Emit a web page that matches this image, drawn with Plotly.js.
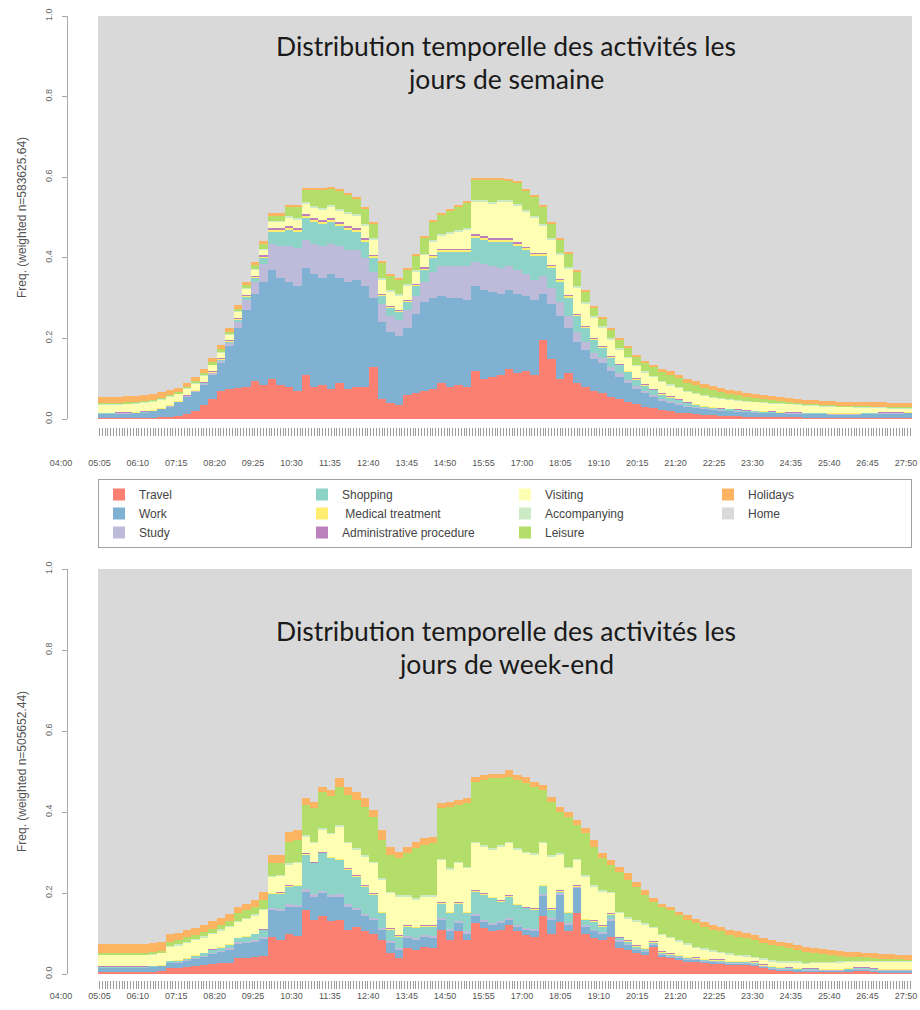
<!DOCTYPE html>
<html>
<head>
<meta charset="utf-8">
<script src="https://cdn.plot.ly/plotly-3.0.1.min.js"></script>
<style>
html,body{margin:0;padding:0;background:#ffffff;}
#chart{width:920px;height:1010px;}
</style>
</head>
<body>
<div id="chart"></div>
<script>
// ---------------- DATA ----------------
const states = ["Travel","Work","Study","Shopping","\u00a0Medical treatment","Administrative procedure","Visiting","Accompanying","Leisure","Holidays","Home"];
const stateColors = ["#FB8072","#80B1D3","#BEBADA","#8DD3C7","#FFED6F","#BC80BD","#FFFFB3","#CCEBC5","#B3DE69","#FDB462","#D9D9D9"];

const timeLabels = ["04:00","05:05","06:10","07:15","08:20","09:25","10:30","11:35","12:40","13:45","14:50","15:55","17:00","18:05","19:10","20:15","21:20","22:25","23:30","24:35","25:40","26:45","27:50"];
const yTickVals = [0,0.2,0.4,0.6,0.8,1.0];
const yTickText = ["0.0","0.2","0.4","0.6","0.8","1.0"];
const titleWeekday = ["Distribution temporelle des activités les","jours de semaine"];
const titleWeekend = ["Distribution temporelle des activités les","jours de week-end"];
const yTitleWeekday = "Freq. (weighted n=583625.64)";
const yTitleWeekend = "Freq. (weighted n=505652.44)";

// 15-minute slots from 04:00 (96 slots), shares of each state
// ---- Weekdays ----
const travelWd = [.002,.002,.002,.002,.002,.002,.003,.004,.005,.007,.012,.020,
 .035,.050,.070,.075,.078,.080,.095,.085,.100,.085,.080,.070,
 .110,.080,.085,.075,.090,.075,.080,.080,.130,.050,.040,.035,
 .060,.065,.070,.075,.090,.080,.085,.080,.120,.100,.105,.110,
 .125,.115,.120,.110,.195,.150,.100,.115,.090,.080,.070,.065,
 .055,.050,.042,.038,.030,.028,.022,.020,.016,.014,.012,.010,
 .010,.008,.008,.007,.006,.006,.005,.005,.005,.004,.004,.003,
 .003,.003,.003,.003,.002,.002,.002,.002,.002,.002,.002,.002];
const workWd = [.010,.010,.011,.011,.012,.013,.016,.020,.026,.034,.043,.048,
 .050,.060,.070,.105,.147,.190,.215,.255,.270,.265,.260,.260,
 .265,.280,.265,.285,.260,.265,.265,.250,.170,.190,.175,.170,
 .165,.195,.220,.225,.215,.220,.215,.215,.210,.220,.210,.200,
 .195,.195,.185,.185,.115,.135,.155,.110,.100,.090,.080,.075,
 .065,.055,.048,.037,.035,.027,.023,.020,.019,.016,.015,.014,
 .012,.012,.011,.011,.011,.010,.010,.010,.009,.009,.009,.009,
 .009,.009,.008,.008,.009,.009,.010,.010,.011,.011,.011,.012];
const studyWd = [.001,.001,.001,.001,.001,.001,.001,.001,.001,.001,.001,.001,
 .003,.003,.005,.008,.015,.025,.030,.045,.065,.080,.090,.095,
 .070,.075,.080,.075,.080,.080,.075,.070,.065,.045,.040,.040,
 .045,.045,.050,.065,.075,.080,.080,.085,.060,.065,.065,.065,
 .060,.060,.055,.050,.045,.040,.035,.030,.025,.020,.015,.012,
 .010,.008,.008,.008,.005,.005,.005,.004,.004,.003,.003,.003,
 .002,.002,.002,.002,.001,.001,.001,.001,.001,.001,.001,.001,
 .001,.001,.001,.001,.001,.001,.001,.001,.001,.001,.001,.001];
const shoppingWd = [.001,.001,.001,.001,.001,.001,.001,.001,.001,.001,.001,.001,
 .001,.002,.002,.003,.005,.007,.010,.015,.030,.035,.040,.040,
 .055,.055,.055,.055,.050,.050,.045,.040,.035,.020,.020,.020,
 .020,.025,.030,.035,.035,.035,.035,.035,.060,.060,.060,.065,
 .060,.060,.060,.060,.050,.050,.050,.045,.040,.035,.030,.025,
 .022,.020,.018,.015,.013,.011,.010,.008,.007,.006,.005,.004,
 .004,.003,.003,.002,.002,.002,.002,.001,.001,.001,.001,.001,
 .001,.001,.001,.001,.001,.001,.001,.001,.001,.001,.001,.001];
const medicalWd = [.001,.001,.001,.001,.001,.001,.001,.001,.001,.001,.001,.001,
 .001,.002,.002,.002,.003,.003,.003,.003,.004,.004,.004,.004,
 .004,.004,.004,.004,.004,.004,.004,.004,.004,.003,.003,.003,
 .003,.003,.003,.004,.004,.004,.004,.004,.004,.004,.004,.004,
 .004,.004,.004,.004,.004,.004,.004,.004,.003,.003,.003,.002,
 .002,.002,.002,.002,.002,.002,.002,.002,.002,.001,.001,.001,
 .001,.001,.001,.001,.001,.001,.001,.001,.001,.001,.001,.001,
 .001,.001,.001,.001,.001,.001,.001,.001,.001,.001,.001,.001];
const adminWd = [.001,.001,.001,.001,.001,.001,.001,.001,.001,.001,.001,.001,
 .001,.002,.002,.002,.003,.003,.003,.003,.004,.004,.004,.004,
 .004,.004,.004,.004,.004,.004,.004,.004,.004,.003,.003,.003,
 .003,.003,.003,.004,.004,.004,.004,.004,.004,.004,.004,.004,
 .004,.004,.004,.004,.004,.004,.004,.004,.003,.003,.003,.002,
 .002,.002,.002,.002,.002,.002,.002,.002,.002,.001,.001,.001,
 .001,.001,.001,.001,.001,.001,.001,.001,.001,.001,.001,.001,
 .001,.001,.001,.001,.001,.001,.001,.001,.001,.001,.001,.001];
const visitingWd = [.018,.018,.018,.019,.019,.020,.020,.020,.019,.016,.015,.015,
 .015,.014,.014,.014,.014,.014,.014,.014,.015,.015,.020,.020,
 .025,.025,.025,.027,.027,.030,.030,.032,.035,.035,.035,.035,
 .035,.030,.030,.030,.030,.035,.040,.045,.080,.085,.085,.090,
 .090,.090,.085,.085,.065,.060,.060,.065,.065,.055,.050,.045,
 .040,.035,.032,.030,.028,.028,.027,.027,.026,.025,.024,.023,
 .022,.022,.021,.021,.020,.020,.020,.019,.019,.019,.018,.017,
 .016,.015,.015,.014,.014,.013,.012,.011,.010,.009,.009,.008];
const accompWd = [.002,.002,.002,.002,.002,.002,.002,.002,.002,.002,.002,.002,
 .002,.002,.002,.002,.002,.003,.003,.003,.004,.004,.005,.005,
 .005,.005,.005,.005,.005,.005,.005,.005,.005,.005,.004,.004,
 .004,.004,.004,.005,.005,.005,.005,.005,.005,.005,.005,.005,
 .005,.005,.005,.005,.005,.005,.005,.005,.005,.004,.004,.004,
 .004,.003,.003,.003,.003,.003,.003,.003,.003,.003,.003,.003,
 .003,.003,.003,.003,.003,.002,.002,.002,.002,.002,.002,.002,
 .002,.002,.002,.002,.002,.002,.002,.002,.002,.002,.002,.002];
const leisureWd = [.003,.003,.003,.003,.003,.003,.003,.003,.003,.003,.004,.005,
 .006,.006,.007,.006,.007,.008,.010,.012,.012,.012,.022,.027,
 .030,.040,.045,.040,.045,.042,.037,.035,.037,.037,.035,.035,
 .035,.035,.040,.047,.047,.052,.057,.062,.049,.049,.054,.049,
 .047,.052,.047,.047,.042,.037,.032,.032,.034,.025,.020,.018,
 .020,.020,.020,.020,.020,.022,.023,.023,.022,.021,.021,.019,
 .017,.015,.013,.011,.010,.009,.007,.006,.005,.004,.003,.003,
 .003,.002,.002,.002,.002,.002,.002,.002,.002,.002,.002,.002];
const holidaysWd = [.015,.015,.015,.015,.015,.015,.014,.013,.012,.011,.010,.010,
 .010,.010,.010,.009,.008,.007,.006,.006,.006,.006,.005,.005,
 .005,.005,.005,.005,.005,.005,.005,.005,.005,.005,.005,.005,
 .005,.005,.005,.005,.005,.005,.005,.005,.005,.005,.005,.005,
 .005,.005,.005,.005,.005,.005,.005,.005,.005,.005,.005,.005,
 .005,.005,.005,.005,.007,.007,.008,.009,.009,.010,.010,.010,
 .010,.010,.010,.010,.010,.010,.010,.010,.010,.010,.010,.010,
 .010,.010,.010,.010,.010,.010,.010,.010,.010,.010,.010,.010];

// ---- Week-end ----
const travelWe = [.005,.005,.005,.005,.005,.005,.006,.007,.014,.015,.017,.020,
 .022,.025,.026,.028,.039,.040,.042,.045,.092,.085,.100,.095,
 .158,.133,.142,.130,.133,.109,.117,.105,.100,.084,.051,.039,
 .063,.059,.067,.063,.109,.084,.105,.084,.125,.113,.105,.109,
 .121,.105,.096,.092,.142,.100,.129,.105,.150,.100,.088,.084,
 .092,.063,.059,.051,.047,.067,.043,.039,.035,.030,.030,.026,
 .025,.025,.022,.022,.022,.020,.014,.010,.008,.007,.006,.005,
 .005,.004,.004,.004,.006,.008,.008,.005,.003,.003,.003,.003];
const workWe = [.010,.010,.010,.010,.010,.010,.011,.012,.012,.013,.015,.018,
 .020,.024,.028,.032,.035,.036,.038,.042,.066,.070,.066,.070,
 .045,.058,.057,.060,.058,.057,.041,.037,.033,.025,.025,.020,
 .025,.025,.025,.025,.024,.021,.020,.016,.017,.016,.016,.016,
 .012,.012,.013,.013,.050,.033,.066,.016,.062,.017,.017,.016,
 .040,.017,.013,.008,.008,.005,.004,.004,.004,.004,.004,.004,
 .004,.003,.003,.003,.003,.003,.003,.003,.003,.003,.003,.003,
 .003,.003,.003,.003,.003,.003,.003,.003,.004,.004,.004,.004];
const studyWe = [.001,.001,.001,.001,.001,.001,.001,.001,.002,.002,.002,.002,
 .003,.003,.003,.003,.004,.004,.004,.005,.005,.005,.006,.006,
 .006,.006,.006,.006,.006,.006,.006,.006,.006,.005,.005,.005,
 .005,.005,.005,.005,.005,.005,.005,.005,.005,.005,.005,.005,
 .005,.005,.005,.005,.005,.005,.004,.004,.002,.004,.004,.004,
 .004,.003,.003,.003,.002,.002,.002,.002,.002,.002,.002,.002,
 .002,.002,.002,.002,.002,.002,.002,.002,.002,.002,.002,.002,
 .002,.002,.002,.002,.002,.002,.002,.002,.002,.002,.002,.002];
const shoppingWe = [.001,.001,.001,.001,.001,.001,.001,.001,.003,.003,.004,.005,
 .006,.007,.008,.009,.010,.012,.014,.016,.034,.038,.044,.046,
 .085,.076,.093,.090,.084,.085,.076,.068,.056,.036,.028,.028,
 .024,.024,.020,.024,.036,.040,.044,.045,.056,.061,.061,.049,
 .053,.048,.048,.048,.020,.020,.004,.025,.002,.012,.020,.013,
 .010,.005,.005,.005,.004,.003,.003,.003,.003,.003,.002,.002,
 .002,.002,.002,.002,.002,.002,.002,.002,.002,.002,.002,.002,
 .002,.002,.002,.002,.002,.002,.002,.002,.002,.002,.002,.002];
const medicalWe = [.001,.001,.001,.001,.001,.001,.001,.001,.001,.001,.001,.001,
 .001,.001,.001,.001,.001,.001,.001,.001,.002,.002,.002,.002,
 .002,.002,.002,.002,.002,.002,.002,.002,.002,.002,.002,.002,
 .002,.002,.002,.002,.002,.002,.002,.002,.002,.002,.002,.002,
 .002,.002,.002,.002,.002,.002,.002,.002,.002,.002,.002,.002,
 .002,.002,.002,.002,.002,.002,.002,.002,.002,.002,.002,.002,
 .002,.002,.002,.002,.002,.002,.002,.002,.002,.002,.002,.001,
 .001,.001,.001,.001,.001,.001,.001,.001,.001,.001,.001,.001];
const adminWe = [.001,.001,.001,.001,.001,.001,.001,.001,.001,.001,.001,.001,
 .001,.001,.001,.001,.001,.001,.001,.001,.002,.002,.002,.002,
 .002,.002,.002,.002,.002,.002,.002,.002,.002,.002,.002,.002,
 .002,.002,.002,.002,.002,.002,.002,.002,.002,.002,.002,.002,
 .002,.002,.002,.002,.002,.002,.002,.002,.002,.002,.002,.002,
 .002,.002,.002,.002,.002,.002,.002,.002,.002,.002,.002,.002,
 .002,.002,.002,.002,.002,.002,.002,.002,.001,.001,.001,.001,
 .001,.001,.001,.001,.001,.001,.001,.001,.001,.001,.001,.001];
const visitingWe = [.027,.027,.027,.027,.027,.027,.027,.028,.034,.035,.037,.036,
 .037,.038,.040,.042,.039,.042,.044,.048,.039,.040,.050,.052,
 .041,.046,.054,.055,.079,.062,.062,.070,.074,.078,.086,.095,
 .070,.066,.070,.070,.103,.103,.095,.107,.116,.115,.115,.131,
 .128,.132,.132,.132,.102,.128,.087,.107,.061,.103,.083,.082,
 .049,.058,.053,.058,.056,.032,.040,.036,.032,.029,.021,.021,
 .018,.015,.014,.011,.010,.008,.010,.009,.010,.010,.011,.011,
 .012,.013,.014,.015,.014,.013,.013,.015,.016,.017,.017,.017];
const accompWe = [.002,.002,.002,.002,.002,.002,.002,.002,.003,.003,.003,.003,
 .003,.003,.003,.003,.003,.003,.003,.003,.003,.003,.004,.004,
 .004,.004,.004,.004,.004,.004,.004,.004,.004,.004,.004,.004,
 .004,.004,.004,.004,.004,.004,.004,.004,.004,.004,.004,.004,
 .004,.004,.004,.004,.004,.004,.004,.004,.004,.004,.004,.004,
 .004,.004,.004,.004,.004,.004,.004,.004,.004,.004,.004,.004,
 .004,.004,.004,.004,.004,.004,.004,.004,.004,.004,.004,.003,
 .003,.003,.003,.003,.003,.003,.003,.003,.003,.003,.003,.003];
const leisureWe = [.004,.004,.004,.004,.004,.004,.004,.004,.010,.010,.011,.010,
 .010,.010,.011,.011,.018,.018,.019,.022,.031,.030,.053,.055,
 .074,.082,.090,.090,.094,.115,.120,.119,.111,.095,.091,.091,
 .103,.123,.124,.128,.124,.152,.140,.156,.148,.161,.173,.165,
 .160,.169,.169,.164,.127,.131,.102,.123,.083,.103,.094,.079,
 .066,.099,.091,.083,.070,.062,.066,.066,.062,.057,.058,.054,
 .050,.050,.045,.044,.041,.041,.037,.038,.036,.033,.029,.027,
 .022,.020,.017,.014,.011,.009,.008,.008,.006,.004,.003,.002];
const holidaysWe = [.022,.022,.022,.022,.022,.022,.022,.022,.018,.018,.018,.018,
 .018,.018,.018,.018,.016,.017,.017,.020,.020,.019,.024,.024,
 .017,.016,.012,.015,.021,.020,.020,.021,.017,.025,.020,.016,
 .016,.017,.016,.016,.012,.012,.013,.013,.012,.012,.012,.012,
 .017,.012,.016,.013,.013,.013,.013,.012,.012,.013,.017,.012,
 .012,.012,.017,.012,.012,.008,.008,.008,.008,.013,.012,.012,
 .012,.012,.013,.013,.014,.012,.012,.012,.012,.012,.012,.012,
 .012,.012,.012,.012,.012,.012,.012,.012,.012,.012,.012,.012];

const weekdaySeries = [travelWd, workWd, studyWd, shoppingWd, medicalWd, adminWd, visitingWd, accompWd, leisureWd, holidaysWd];
const weekendSeries = [travelWe, workWe, studyWe, shoppingWe, medicalWe, adminWe, visitingWe, accompWe, leisureWe, holidaysWe];

// ---------------- GEOMETRY ----------------
const W = 920, H = 1010;
const slotLen = 15;                      // minutes per slot
const nSlots = travelWd.length;
const dayMin = nSlots * slotLen;         // 1440 minutes from 04:00
const slotCenters = travelWd.map((_, j) => j * slotLen + slotLen / 2);
const plotL = 98, plotR = 912;
const pxPerMin = (plotR - plotL) / dayMin;
const xRange = [-plotL / pxPerMin, dayMin + (W - plotR) / pxPerMin];
// R tick labels are drawn on their own (shifted) spacing
const labelPx0 = 61, labelStepPx = 38.41;
const labelVals = timeLabels.map((_, k) => (labelPx0 + labelStepPx * k - plotL) / pxPerMin);
const stepMin = 5;
const minorVals = [];
for (let t = stepMin / 2; t < dayMin; t += stepMin) minorVals.push(t);

function pyr(px) { return (H - px) / H; }

function xAxisCfg(posPx, standoff) {
  return {
    domain: [0, 1], range: xRange, anchor: 'free', position: pyr(posPx),
    tickmode: 'array', tickvals: labelVals, ticktext: timeLabels, ticks: '',
    showline: false, showgrid: false, zeroline: false,
    tickfont: {family: 'Liberation Sans, Arial, sans-serif', size: 9, color: '#555'},
    ticklabelstandoff: standoff,
    minor: {tickmode: 'array', tickvals: minorVals, ticks: 'outside', ticklen: 8,
            tickcolor: '#9c9c9c', tickwidth: 1, showgrid: false},
    fixedrange: true
  };
}
function yAxisCfg(topPx, botPx, title) {
  return {
    domain: [pyr(botPx), pyr(topPx)], range: [0, 1], anchor: 'free', position: 67 / W,
    showline: true, linecolor: '#a8a8a8', linewidth: 1,
    ticks: 'outside', ticklen: 5, tickcolor: '#a8a8a8', tickwidth: 1,
    tickmode: 'array', tickvals: yTickVals, ticktext: yTickText, tickangle: -90,
    tickfont: {family: 'Liberation Sans, Arial, sans-serif', size: 9, color: '#666'},
    ticklabelstandoff: 6,
    showgrid: false, zeroline: false,
    title: {text: title, font: {family: 'Liberation Sans, Arial, sans-serif', size: 12, color: '#555'}, standoff: 14},
    fixedrange: true
  };
}

// legend order: R fills column by column (3 rows)
function legendRank(i) { const c = Math.floor(i / 3), r = i % 3; return r * 4 + c + 1; }

const traces = [];
weekdaySeries.forEach((vals, i) => {
  traces.push({type: 'bar', x: slotCenters, y: vals, name: states[i], xaxis: 'x', yaxis: 'y',
    marker: {color: stateColors[i], line: {width: 0}}, showlegend: true,
    legendrank: legendRank(i), hoverinfo: 'skip'});
});
weekendSeries.forEach((vals, i) => {
  traces.push({type: 'bar', x: slotCenters, y: vals, name: states[i], xaxis: 'x2', yaxis: 'y2',
    marker: {color: stateColors[i], line: {width: 0}}, showlegend: false, hoverinfo: 'skip'});
});
// Home = remaining share, drawn as the grey plot area
traces.push({type: 'bar', x: [null], y: [null], name: states[10], xaxis: 'x', yaxis: 'y',
  marker: {color: stateColors[10], line: {width: 0}}, showlegend: true, legendrank: legendRank(10), hoverinfo: 'skip'});

const titleFont = {family: 'Lato, Open Sans, sans-serif', size: 26.5, color: '#1a1a1a'};
function titleAnn(text, yPx) {
  return {text: text, xref: 'paper', yref: 'paper', x: 506 / W, y: pyr(yPx),
          xanchor: 'center', yanchor: 'middle', showarrow: false, font: titleFont};
}

const layout = {
  width: W, height: H,
  margin: {l: 0, r: 0, t: 0, b: 0},
  paper_bgcolor: '#ffffff', plot_bgcolor: 'rgba(0,0,0,0)',
  font: {family: 'Liberation Sans, Arial, sans-serif', color: '#444'},
  barmode: 'stack', bargap: 0, bargroupgap: 0,
  hovermode: false,
  xaxis: xAxisCfg(427, 29),
  yaxis: yAxisCfg(16, 419, yTitleWeekday),
  xaxis2: xAxisCfg(980, 9),
  yaxis2: yAxisCfg(569, 974, yTitleWeekend),
  shapes: [
    {type: 'rect', xref: 'x', yref: 'y', x0: 0, x1: dayMin, y0: 0, y1: 1, fillcolor: stateColors[10], line: {width: 0}, layer: 'below'},
    {type: 'rect', xref: 'x2', yref: 'y2', x0: 0, x1: dayMin, y0: 0, y1: 1, fillcolor: stateColors[10], line: {width: 0}, layer: 'below'}
  ],
  annotations: [
    titleAnn(titleWeekday[0], 46), titleAnn(titleWeekday[1], 79),
    titleAnn(titleWeekend[0], 631), titleAnn(titleWeekend[1], 664)
  ],
  legend: {
    orientation: 'h', x: plotL / W, xanchor: 'left', y: pyr(479), yanchor: 'top',
    bgcolor: '#ffffff', bordercolor: '#a0a0a0', borderwidth: 1,
    entrywidth: 158, entrywidthmode: 'pixels', traceorder: 'normal',
    font: {family: 'Liberation Sans, Arial, sans-serif', size: 12, color: '#444'},
    itemclick: false, itemdoubleclick: false
  }
};

Plotly.newPlot('chart', traces, layout, {displayModeBar: false, staticPlot: true});
</script>
</body>
</html>
